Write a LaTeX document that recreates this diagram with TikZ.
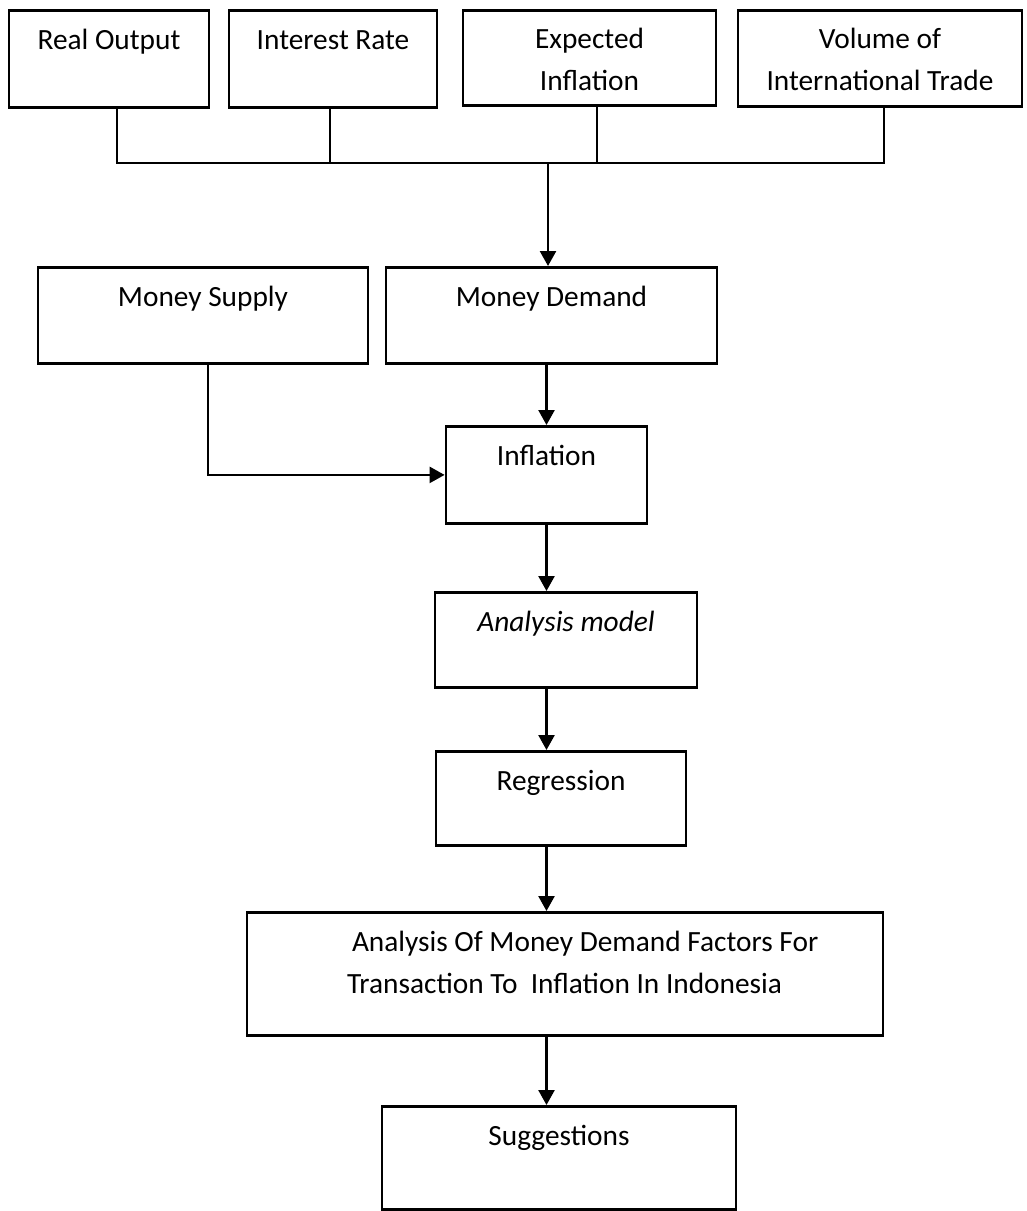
\documentclass[tikz,border=0pt]{standalone}
\usepackage{fontspec}
\setmainfont{Carlito}
\usepackage{tikz}
\usetikzlibrary{arrows.meta}
\newcommand{\BoxFont}{\fontsize{16.7}{23.9}\selectfont}
\tikzstyle{NodeBox}=[draw,line width=1.6pt,inner xsep=0pt,inner ysep=0pt,anchor=north,
align=center,text height=0.78cm,font=\BoxFont]
\tikzstyle{EdgeLine}=[line width=1.4pt]
\tikzstyle{EdgeArrow}=[line width=1.4pt,-{Triangle[length=0.3cm,width=0.32cm]}]
\begin{document}
\begin{tikzpicture}
        \useasboundingbox(0,0)rectangle(20.52,-24.22);
        \node[NodeBox,minimum width=4cm,text depth=1.16cm](ro)at(2.18,-0.18){Real Output};
        \node[NodeBox,minimum width=4.16cm,text depth=1.16cm](ir)at(6.66,-0.18){Interest Rate};
        \node[NodeBox,minimum width=5.06cm,text height=1.6cm,text depth=0.3cm](ei)at(11.79,-0.18){Expected\\Inflation};
        \node[NodeBox,minimum width=5.68cm,text height=1.6cm,text depth=0.32cm](vt)at(17.6,-0.18){Volume of\\International Trade};
        \node[NodeBox,minimum width=6.6cm,text depth=1.14cm](ms)at(4.06,-5.32){Money Supply};
        \node[NodeBox,minimum width=6.62cm,text depth=1.14cm](md)at(11.03,-5.32){Money Demand};
        \node[NodeBox,minimum width=4.02cm,text depth=1.16cm](inf)at(10.93,-8.5){Inflation};
        \node[NodeBox,minimum width=5.24cm,text depth=1.12cm](am)at(11.32,-11.82){\itshape Analysis model};
        \node[NodeBox,minimum width=5cm,text depth=1.1cm](reg)at(11.22,-15){Regression};
        \node[NodeBox,text width=12.72cm,align=flush left,text depth=1.68cm](an)at(11.3,-18.22)
            {\hspace*{2.1cm}Analysis Of Money Demand Factors For\\\hspace*{2cm}Transaction To\ \ Inflation In Indonesia};
        \node[NodeBox,minimum width=7.08cm,text depth=1.28cm](sug)at(11.18,-22.1){Suggestions};
        \coordinate(bus)at(10.96,-3.26);
        \draw[EdgeLine]([xshift=0.16cm]ro.south)|-([xshift=0.08cm]vt.south|-bus)--([xshift=0.08cm]vt.south);
        \draw[EdgeLine]([xshift=-0.06cm]ir.south)--([xshift=-0.06cm]ir.south|-bus);
        \draw[EdgeLine]([xshift=0.15cm]ei.south)--([xshift=0.15cm]ei.south|-bus);
        \draw[EdgeArrow](bus)--(bus|-md.north);
        \draw[EdgeArrow](md.south-|inf.north)--(inf.north);
        \draw[EdgeArrow]([xshift=0.1cm]ms.south)|-(inf.west);
        \draw[EdgeArrow](inf.south)--(inf.south|-am.north);
        \draw[EdgeArrow](am.south-|inf.south)--(reg.north-|inf.south);
        \draw[EdgeArrow](reg.south-|inf.south)--(an.north-|inf.south);
        \draw[EdgeArrow](an.south-|inf.south)--(sug.north-|inf.south);
    \end{tikzpicture}
\end{document}
